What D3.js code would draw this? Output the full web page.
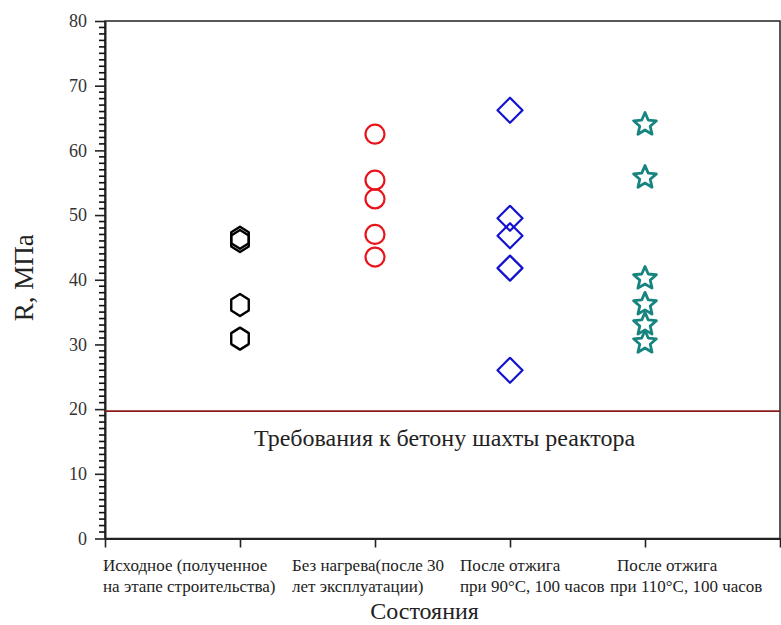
<!DOCTYPE html>
<html>
<head>
<meta charset="utf-8">
<script src="https://cdn.jsdelivr.net/npm/d3@7"></script>
<style>
  body { margin: 0; background: #fff; }
  svg text { font-family: "Liberation Serif", "Times New Roman", serif; fill: #222; }
</style>
</head>
<body>
<div id="chart"></div>
<script>
// categories (two-line labels under the x axis)
const categories = [
    ["Исходное (полученное", "на этапе строительства)"],
    ["Без нагрева(после 30", "лет эксплуатации)"],
    ["После отжига", "при 90°С, 100 часов"],
    ["После отжига", "при 110°С, 100 часов"]
];

// measured strength, MPa
const initialVals = [46.5, 46.0, 36.1, 30.9];
const noHeatVals = [62.5, 55.4, 52.5, 47.0, 43.5];
const anneal90Vals = [66.2, 49.5, 46.8, 41.8, 26.0];
const anneal110Vals = [64.0, 55.8, 40.2, 36.2, 33.1, 30.3];

const requirement = 19.7;
const requirementLabel = "Требования к бетону шахты реактора";

const yTicks = [0, 10, 20, 30, 40, 50, 60, 70, 80];
const yMinorTicks = [];
for (let v = 1; v < 80; v++) if (v % 10 !== 0) yMinorTicks.push(v);
const xTicks = [0, 1, 2, 3, 4, 5];

const width = 781, height = 625;
const margin = { top: 21, right: 1, bottom: 86.5, left: 105 };
const serif = "Liberation Serif";

const svg = d3.select("#chart").append("svg")
    .attr("width", width)
    .attr("height", height);

const x = d3.scaleLinear().domain([0, 5]).range([margin.left, width - margin.right]);
const y = d3.scaleLinear().domain([0, 80]).range([height - margin.bottom, margin.top]);

// frame
svg.append("rect")
    .attr("x", x(0)).attr("y", y(80))
    .attr("width", x(5) - x(0)).attr("height", y(0) - y(80))
    .attr("fill", "none").attr("stroke", "#222").attr("stroke-width", 1.5);

// major y ticks
const yAxis = svg.append("g")
    .attr("transform", `translate(${x(0)},0)`)
    .call(d3.axisLeft(y).tickValues(yTicks).tickSize(10).tickPadding(8).tickSizeOuter(0));
yAxis.attr("font-family", serif);
yAxis.select(".domain").attr("stroke", "#222").attr("stroke-width", 2);
yAxis.selectAll("line").attr("stroke", "#222").attr("stroke-width", 1.6);
yAxis.selectAll("text")
    .attr("font-size", 18)
    .style("font-family", serif)
    .style("fill", "#333");

// minor y ticks, every 1 MPa
const minor = svg.append("g").attr("class", "minor-ticks");
minor.selectAll("rect").data(yMinorTicks).enter().append("rect")
    .attr("x", x(0) - 6)
    .attr("y", d => y(d) - 0.8)
    .attr("width", 6)
    .attr("height", 1.6)
    .attr("fill", "#111");

// x axis
const xAxis = svg.append("g")
    .attr("transform", `translate(0,${y(0)})`)
    .call(d3.axisBottom(x).tickValues(xTicks).tickSize(9).tickFormat("").tickSizeOuter(0));
xAxis.select(".domain").attr("stroke", "#222").attr("stroke-width", 2);
xAxis.selectAll("line").attr("stroke", "#222").attr("stroke-width", 1.6);

// category labels, left-aligned under each tick
const labelDx = [-137, -83, -50, -35];
const labels = svg.append("g");
categories.forEach((lines, i) => {
    const t = labels.append("text")
        .attr("x", x(i + 1) + labelDx[i])
        .attr("y", y(0) + 32)
        .attr("font-size", 17);
    lines.forEach((s, j) => {
        t.append("tspan")
            .attr("x", x(i + 1) + labelDx[i] + (i === 3 && j === 0 ? 7 : 0))
            .attr("dy", j === 0 ? 0 : 21)
            .text(s);
    });
});

// axis titles
svg.append("text")
    .attr("x", x(2.5) - 18).attr("y", 619)
    .attr("text-anchor", "middle")
    .attr("font-size", 24)
    .text("Состояния");

svg.append("text")
    .attr("transform", `translate(33,${y(40) - 2}) rotate(-90)`)
    .attr("text-anchor", "middle")
    .attr("font-size", 27)
    .text("R, МПа");

// requirement line
svg.append("line")
    .attr("x1", x(0)).attr("x2", x(5))
    .attr("y1", y(requirement)).attr("y2", y(requirement))
    .attr("stroke", "#8b1a1a").attr("stroke-width", 1.8);

svg.append("text")
    .attr("x", x(2.5) + 2).attr("y", y(requirement) + 35)
    .attr("text-anchor", "middle")
    .attr("font-size", 24)
    .text(requirementLabel);

// marker shapes
function hexPath(r) {
    const pts = d3.range(6).map(k => {
        const a = Math.PI / 2 + k * Math.PI / 3;
        return [r * 0.92 * Math.cos(a), -r * Math.sin(a)];
    });
    return "M" + pts.map(p => p.join(",")).join("L") + "Z";
}
function diamondPath(r) {
    return `M0,${-r}L${r},0L0,${r}L${-r},0Z`;
}
function starPath(ro, ri) {
    const pts = d3.range(10).map(k => {
        const a = -Math.PI / 2 + k * Math.PI / 5;
        const r = k % 2 === 0 ? ro : ri;
        return [r * Math.cos(a), r * Math.sin(a)];
    });
    return "M" + pts.map(p => p.join(",")).join("L") + "Z";
}

const series = [
    { vals: initialVals, pos: 1, color: "#000000", path: hexPath(11), width: 2.4 },
    { vals: noHeatVals, pos: 2, color: "#e8141b", path: null, width: 2.2 },
    { vals: anneal90Vals, pos: 3, color: "#1212d0", path: diamondPath(12.5), width: 2.2 },
    { vals: anneal110Vals, pos: 4, color: "#17847f", path: starPath(12, 5.5), width: 2.8 }
];

series.forEach(s => {
    const g = svg.append("g");
    if (s.path) {
        g.selectAll("path").data(s.vals).enter().append("path")
            .attr("d", s.path)
            .attr("transform", d => `translate(${x(s.pos)},${y(d)})`)
            .attr("fill", "none")
            .attr("stroke", s.color)
            .attr("stroke-width", s.width)
            .attr("stroke-linejoin", "round");
    } else {
        g.selectAll("circle").data(s.vals).enter().append("circle")
            .attr("cx", x(s.pos))
            .attr("cy", d => y(d))
            .attr("r", 9.5)
            .attr("fill", "none")
            .attr("stroke", s.color)
            .attr("stroke-width", s.width);
    }
});
</script>
</body>
</html>
